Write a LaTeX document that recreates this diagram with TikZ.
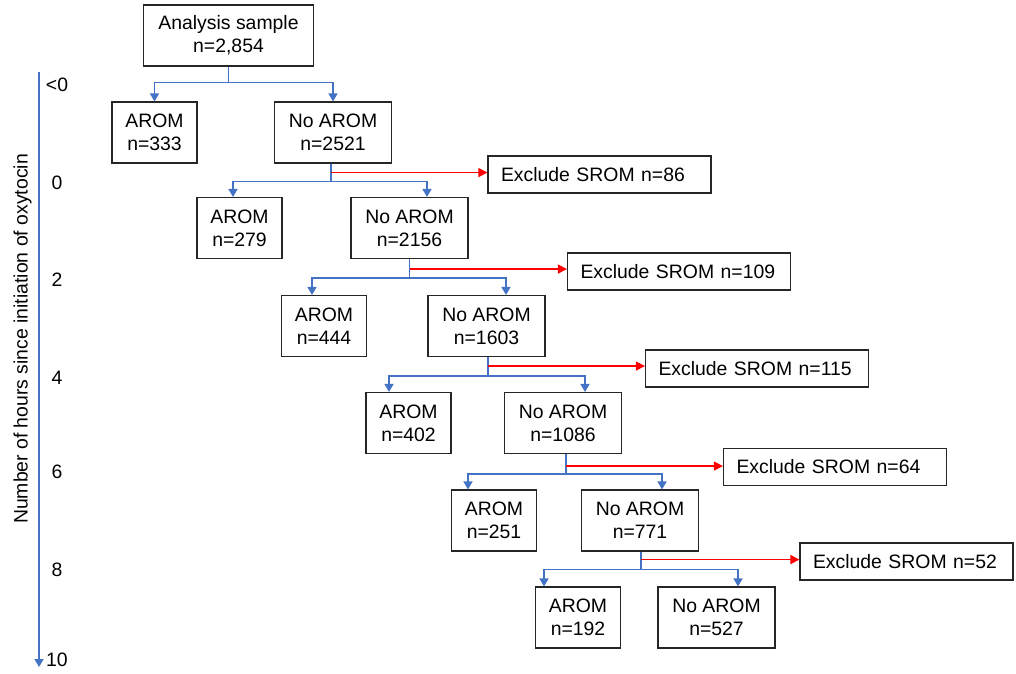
\documentclass[tikz,border=0pt]{standalone}
\usepackage{fontspec}
\setmainfont{Liberation Sans}
\usetikzlibrary{arrows.meta}
\definecolor{flowblue}{HTML}{4472C4}
\begin{document}
\begin{tikzpicture}[x=1pt, y=-1pt,
	every node/.style={font=\fontsize{19.4}{23}\selectfont},
	box/.style={draw=black!85, line width=1.1pt, align=center, minimum height=61pt, inner sep=0pt},
	arombox/.style={box, minimum width=85pt},
	noarombox/.style={box, minimum width=117pt},
	exclbox/.style={draw=black!85, line width=1.1pt, minimum height=37pt, text width=197pt, inner xsep=13pt, inner ysep=0pt, align=left},
	flow/.style={draw=flowblue, line width=1.4pt, -{Triangle[width=9pt,length=8pt]}},
	exclude/.style={draw=red, line width=1.3pt, -{Triangle[width=9pt,length=9pt]}}]
	\useasboundingbox (0,0) rectangle (1016,673);
	% time axis
	\coordinate (top) at (39,72);
	\coordinate (bottom) at (39,667);
	\draw[flow] (top)--(bottom);
	\node (t0) at (57,85) {<0};
	\node (t1) at (57,183) {0};
	\node (t2) at (57,280) {2};
	\node (t3) at (57,378) {4};
	\node (t4) at (57,472) {6};
	\node (t5) at (57,570) {8};
	\node (t6) at (57,660) {10};
	\node [rotate=90, anchor=base] (axis) at (27.5,339) {Number of hours since initiation of oxytocin};
	% boxes
	\node [box, minimum width=170pt] (sample) at (228.5,35.5) {Analysis sample\\n=2,854};
	\node [arombox] (arom1) at (154.5,132.5) {AROM\\n=333};
	\node [noarombox] (noarom1) at (333,132.5) {No AROM\\n=2521};
	\node [arombox] (arom2) at (239.5,228) {AROM\\n=279};
	\node [noarombox] (noarom2) at (409.5,228) {No AROM\\n=2156};
	\node [arombox] (arom3) at (324,326) {AROM\\n=444};
	\node [noarombox] (noarom3) at (486.5,326) {No AROM\\n=1603};
	\node [arombox] (arom4) at (408.5,423) {AROM\\n=402};
	\node [noarombox] (noarom4) at (563,423) {No AROM\\n=1086};
	\node [arombox] (arom5) at (494,520.5) {AROM\\n=251};
	\node [noarombox] (noarom5) at (640,520.5) {No AROM\\n=771};
	\node [arombox] (arom6) at (578,617.5) {AROM\\n=192};
	\node [noarombox] (noarom6) at (716.5,617.5) {No AROM\\n=527};
	\node [exclbox] (excl1) at (599.5,174.5) {Exclude SROM n=86};
	\node [exclbox] (excl2) at (679,271.5) {Exclude SROM n=109};
	\node [exclbox] (excl3) at (757,368.5) {Exclude SROM n=115};
	\node [exclbox] (excl4) at (835,467) {Exclude SROM n=64};
	\node [exclbox, text width=187pt] (excl5) at (906.5,561.5) {Exclude SROM n=52};
	% branches
	\draw[flow] (sample.south) -- ++(0,16) -| (arom1.north);
	\draw[flow] (sample.south) -- ++(0,16) -| (noarom1.north);
	\draw[flow] ([xshift=-2pt]noarom1.south) -- ++(0,18) -| ([xshift=-6.5pt]arom2.north);
	\draw[flow] ([xshift=-2pt]noarom1.south) -- ++(0,18) -| ([xshift=17.5pt]noarom2.north);
	\draw[flow] (noarom2.south) -- ++(0,19) -| ([xshift=-12pt]arom3.north);
	\draw[flow] (noarom2.south) -- ++(0,19) -| ([xshift=19.5pt]noarom3.north);
	\draw[flow] ([xshift=1.5pt]noarom3.south) -- ++(0,19) -| ([xshift=-19.5pt]arom4.north);
	\draw[flow] ([xshift=1.5pt]noarom3.south) -- ++(0,19) -| ([xshift=22pt]noarom4.north);
	\draw[flow] ([xshift=3pt]noarom4.south) -- ++(0,20) -| ([xshift=-26pt]arom5.north);
	\draw[flow] ([xshift=3pt]noarom4.south) -- ++(0,20) -| ([xshift=22pt]noarom5.north);
	\draw[flow] ([xshift=1pt]noarom5.south) -- ++(0,18) -| ([xshift=-34pt]arom6.north);
	\draw[flow] ([xshift=1pt]noarom5.south) -- ++(0,18) -| ([xshift=21.5pt]noarom6.north);
	% exclusions
	\coordinate (r1) at ([xshift=-2pt,yshift=-9pt]noarom1.south);
	\coordinate (r2) at ([yshift=-10pt]noarom2.south);
	\coordinate (r3) at ([xshift=1.5pt,yshift=-9pt]noarom3.south);
	\coordinate (r4) at ([xshift=3pt,yshift=-12pt]noarom4.south);
	\coordinate (r5) at ([xshift=1pt,yshift=-8pt]noarom5.south);
	\draw[exclude] (r1) -- (r1 -| excl1.west);
	\draw[exclude] (r2) -- (r2 -| excl2.west);
	\draw[exclude] (r3) -- (r3 -| excl3.west);
	\draw[exclude] (r4) -- (r4 -| excl4.west);
	\draw[exclude] (r5) -- (r5 -| excl5.west);
\end{tikzpicture}
\end{document}
